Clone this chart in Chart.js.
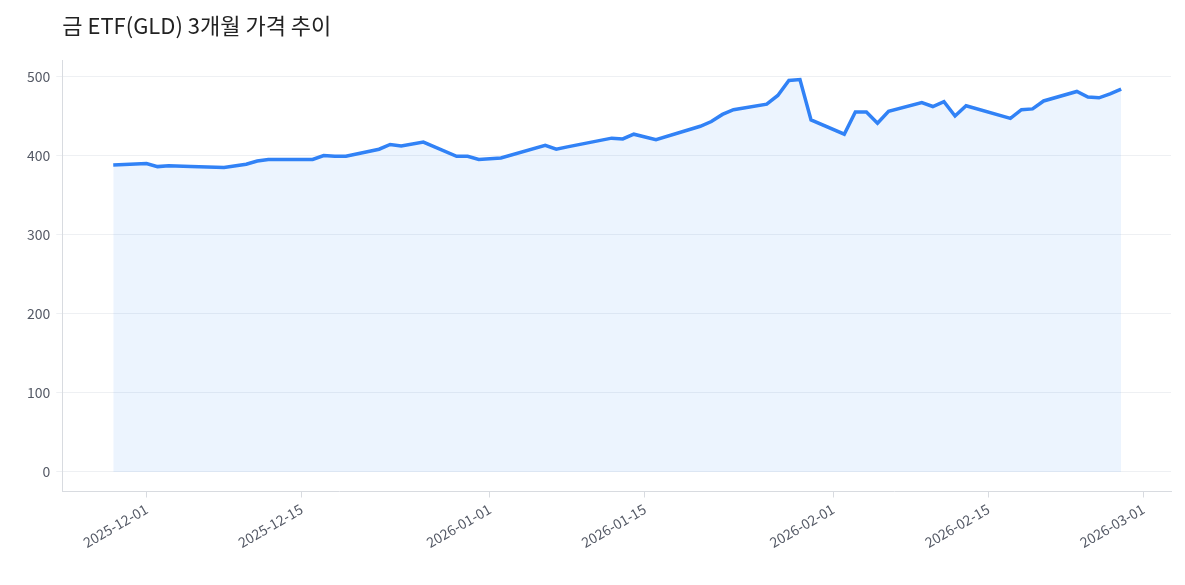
<!DOCTYPE html>
<html><head><meta charset="utf-8">
<script src="https://cdn.jsdelivr.net/npm/chart.js@4"></script>
<style>body{margin:0;background:#fff}#w{width:1185px;height:585px}</style>
</head><body><div id="w"><canvas id="c"></canvas></div>
<script>
const baseDate = '2025-12-01';
const days = [-3,0,1,2,4,7,9,10,11,15,16,17,18,21,22,23,25,28,29,30,32,36,37,38,42,43,44,46,50,51,52,53,56,57,58,59,60,63,64,65,66,67,70,71,72,73,74,78,79,80,81,84,85,86,87,88];
const prices = [388,390,386,387,386,385,389,393,395,395,400,399,399,408,414,412,417,399,399,395,397,413,408,411,422,421,427,420,437,443,452,458,465,476,495,496,445,427,455,455,441,456,467,462,468,450,463,447,458,459,469,481,474,473,478,484];
const tickDays = [0,14,31,45,62,76,90];
const yTicks = [0,100,200,300,400,500];
const titleText = '금 ETF(GLD) 3개월 가격 추이';
function dayLabel(d){const t=new Date(Date.UTC(2025,11,1+d));return t.toISOString().slice(0,10);}
const font = {family:"'Noto Sans CJK KR','Noto Sans',sans-serif",size:14};
const titlePlugin={id:'tp',afterDraw(ch){const c=ch.ctx;c.save();c.font="22px 'Noto Sans CJK KR',sans-serif";c.fillStyle='#222';c.textBaseline='middle';c.fillText(titleText,ch.chartArea.left,26);c.restore();}};
new Chart(document.getElementById('c'),{
type:'line',
data:{datasets:[{data:days.map((d,i)=>({x:d,y:prices[i]})),borderColor:'#3182f6',borderWidth:3.5,pointRadius:0,fill:'origin',backgroundColor:'rgba(49,130,246,0.09)',tension:0}]},
plugins:[titlePlugin],
options:{responsive:true,maintainAspectRatio:false,animation:false,
layout:{padding:{left:21,right:14,top:60,bottom:31}},
plugins:{legend:{display:false},tooltip:{enabled:false},title:{display:false}},
scales:{
 x:{type:'linear',min:-7.6,max:92.5,
  afterBuildTicks:a=>{a.ticks=tickDays.map(v=>({value:v}));},
  ticks:{callback:v=>dayLabel(v),maxRotation:30,minRotation:30,color:'#555a66',font:font,autoSkip:false},
  grid:{drawOnChartArea:false,tickLength:6,color:'#d8dbe0'},border:{color:'#d8dbe0'}},
 y:{min:-24.8,max:520.8,
  afterBuildTicks:a=>{a.ticks=yTicks.map(v=>({value:v}));},
  ticks:{color:'#555a66',font:font,padding:6},
  grid:{color:'#eef0f3',tickLength:6},border:{color:'#d8dbe0'}}
}}});
</script></body></html>
